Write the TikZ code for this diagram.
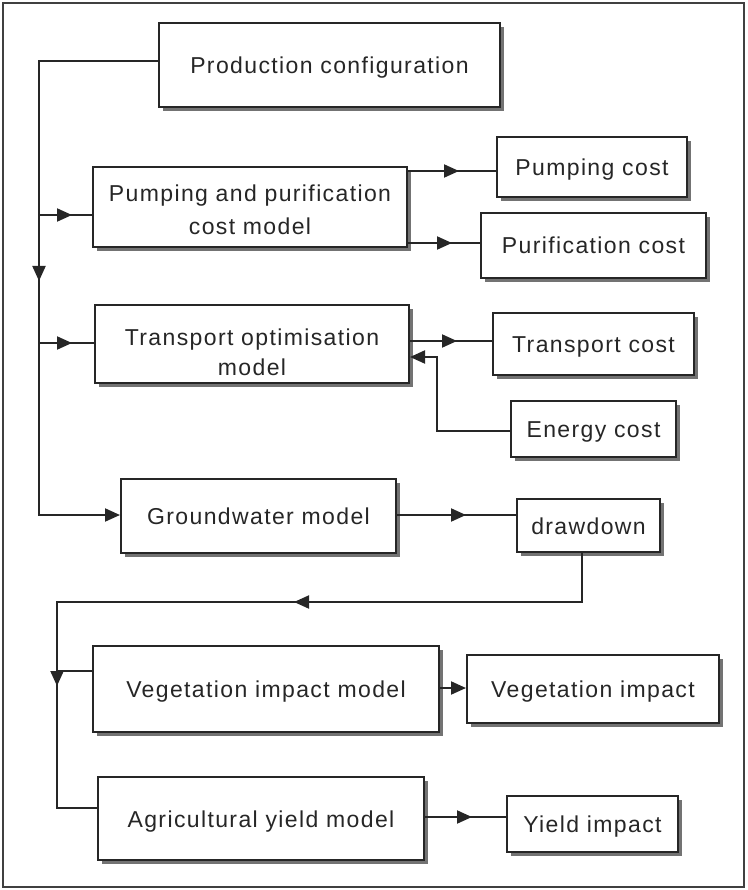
\documentclass[tikz,border=0pt]{standalone}
\usepackage{fontspec}
\setmainfont{Liberation Sans}[LetterSpace=6]
\usetikzlibrary{arrows.meta,shadows,decorations.markings}
\begin{document}
\begin{tikzpicture}[x=1pt,y=-1pt,
  box/.style={draw=black!85, line width=2pt, fill=white, inner sep=0pt, align=center,
    font=\fontsize{23}{32}\selectfont, text=black!85, text height=17pt, text depth=0pt,
    drop shadow={shadow xshift=4pt,shadow yshift=-4pt,fill=black!55,opacity=1}},
  twoline/.style={text height=0pt, text depth=0pt},
  conn/.style={draw=black!85, line width=2pt},
  tipa/.tip={Triangle[length=15pt,width=13pt]},
  arrat/.style={postaction={decorate,decoration={markings,mark=at position #1 with {\arrow{tipa}}}}},
  endarr/.style={-{tipa}}
]
\useasboundingbox (0,0) rectangle (747,890);
\draw[line width=2pt, draw=black!75] (3,3) rectangle (744,887);

\node[box, minimum width=341, minimum height=84] (prod) at (329.5,65) {Production configuration};
\node[box, twoline, minimum width=314, minimum height=80] (ppc) at (250,207) {\raisebox{-10.5pt}[0pt][0pt]{\begin{tabular}{@{}c@{}}Pumping and purification\\[1pt]cost model\end{tabular}}};
\node[box, minimum width=190, minimum height=60] (pcost) at (592,167) {Pumping cost};
\node[box, minimum width=225, minimum height=65] (fcost) at (593.5,245.5) {Purification cost};
\node[box, twoline, minimum width=314, minimum height=78] (tom) at (252,344) {\raisebox{-16pt}[0pt][0pt]{\begin{tabular}{@{}c@{}}Transport optimisation\\[-2pt]model\end{tabular}}};
\node[box, minimum width=201, minimum height=62] (tcost) at (593.5,344) {Transport cost};
\node[box, minimum width=165, minimum height=56] (ecost) at (593.5,429) {Energy cost};
\node[box, minimum width=275, minimum height=74] (gw) at (258.5,516) {Groundwater model};
\node[box, minimum width=143, minimum height=53] (dd) at (588.5,525.5) {drawdown};
\node[box, minimum width=346, minimum height=86] (vim) at (266,689) {Vegetation impact model};
\node[box, minimum width=252, minimum height=68] (vi) at (593,689) {Vegetation impact};
\node[box, minimum width=326, minimum height=83] (aym) at (261,818.5) {Agricultural yield model};
\node[box, minimum width=171, minimum height=56] (yi) at (592.5,824) {Yield impact};

% trunk
\coordinate (tA) at (39,61);
\coordinate (tB) at (39,515);
\coordinate (b1) at (39,215);
\coordinate (b2) at (39,343);
\draw[conn, endarr, arrat=339pt] (tA -| prod.west) -- (tA) -- (tB) -- (tB -| gw.west);
\draw[conn, arrat=33pt] (b1) -- (b1 -| ppc.west);
\draw[conn, arrat=33pt] (b2) -- (b2 -| tom.west);

% cost outputs
\coordinate (p1) at (407,171);
\coordinate (p2) at (407,243);
\coordinate (p3) at (409,341);
\draw[conn, arrat=51pt] (p1 -| ppc.east) -- (p1 -| pcost.west);
\draw[conn, arrat=44pt] (p2 -| ppc.east) -- (p2 -| fcost.west);
\draw[conn, arrat=47pt] (p3 -| tom.east) -- (p3 -| tcost.west);

% energy cost
\coordinate (e1) at (437,431);
\coordinate (e2) at (437,357);
\draw[conn, endarr] (e1 -| ecost.west) -- (e1) -- (e2) -- (e2 -| tom.east);

% groundwater -> drawdown
\coordinate (g1) at (396,515);
\draw[conn, arrat=69pt] (g1 -| gw.east) -- (g1 -| dd.west);

% drawdown -> impact models
\coordinate (d1) at (582,602);
\coordinate (d2) at (57,602);
\coordinate (d3) at (57,808);
\coordinate (v1) at (57,671);
\draw[conn, arrat=337pt, arrat=658pt] (d1 |- dd.south) -- (d1) -- (d2) -- (d3) -- (d3 -| aym.west);
\draw[conn] (v1) -- (v1 -| vim.west);

% impact outputs
\coordinate (v2) at (439,688);
\coordinate (a1) at (424,817);
\draw[conn, endarr] (v2 -| vim.east) -- (v2 -| vi.west);
\draw[conn, arrat=47pt] (a1 -| aym.east) -- (a1 -| yi.west);
\end{tikzpicture}
\end{document}
